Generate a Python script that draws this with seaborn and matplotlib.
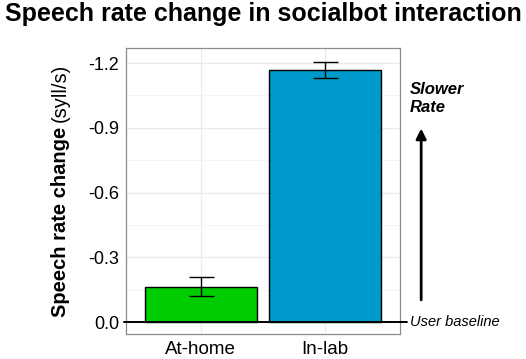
import numpy as np
import pandas as pd
import matplotlib
matplotlib.use("Agg")
import matplotlib.pyplot as plt
import seaborn as sns

# values
conditions = ["At-home", "In-lab"]
rate_change = [-0.165, -1.167]
rate_se = [0.045, 0.038]
bar_colors = ["#00CC00", "#0099CC"]
y_ticks = [0.0, -0.3, -0.6, -0.9, -1.2]

df = pd.DataFrame({"condition": conditions, "change": rate_change})

sns.set_style("white")
plt.rcParams["font.family"] = ["Liberation Sans", "DejaVu Sans"]
plt.rcParams["text.color"] = "black"
plt.rcParams["xtick.color"] = "black"
plt.rcParams["ytick.color"] = "black"

fig = plt.figure(figsize=(5.26, 3.59), dpi=100)
ax = fig.add_axes([126 / 526, 25 / 359, 274 / 526, 286 / 359])

sns.barplot(data=df, x="condition", y="change", hue="condition",
            palette=bar_colors, saturation=1, edgecolor="black", linewidth=1.0,
            width=0.9, legend=False, ax=ax, zorder=3)
ax.errorbar(x=np.arange(len(conditions)), y=rate_change, yerr=rate_se,
            fmt="none", ecolor="black", elinewidth=1.0, capsize=9,
            capthick=1.0, zorder=4)

ax.set_xlim(-0.6, 1.6)
ax.set_ylim(0.055, -1.27)
ax.set_yticks(y_ticks)
ax.set_yticklabels([f"{t:.1f}" for t in y_ticks])
ax.set_yticks([-0.15, -0.45, -0.75, -1.05], minor=True)

ax.grid(True, which="major", color="#EBEBEB", linewidth=0.9, zorder=0)
ax.grid(True, which="minor", axis="y", color="#F4F4F4", linewidth=0.6, zorder=0)
ax.set_axisbelow(True)
for s in ax.spines.values():
    s.set_color("#8C8C8C")
    s.set_linewidth(0.9)
ax.tick_params(axis="both", which="major", length=3, color="#8C8C8C",
               labelsize=13, labelcolor="black", pad=2)
ax.tick_params(axis="x", labelsize=13.5)
ax.tick_params(axis="y", which="minor", length=0)
ax.set_xlabel("")
ax.set_ylabel("")

# baseline at zero, running past the panel to the annotation
ax.plot([-0.62, 1.66], [0, 0], color="black", linewidth=1.4,
        clip_on=False, zorder=5)
ax.text(1.68, 0, "User baseline", style="italic", fontsize=10.5,
        va="center", ha="left", clip_on=False)

ax.annotate("", xy=(1.77, -0.91), xytext=(1.77, -0.09),
            xycoords="data", textcoords="data", annotation_clip=False,
            arrowprops=dict(arrowstyle="-|>", color="black", lw=2,
                            mutation_scale=15))
ax.text(1.68, -1.035, "Slower\nRate", style="italic", weight="bold",
        fontsize=12, va="center", ha="left", linespacing=1.25)

fig.text(0.5, 0.962, "Speech rate change in socialbot interaction",
         ha="center", va="center", weight="bold", fontsize=18)

# y label: bold part then normal unit, placed right after it
bold_lab = fig.text(60 / 526, 42 / 359, "Speech rate change", rotation=90,
                    rotation_mode="anchor", weight="bold", fontsize=14.5,
                    ha="left", va="center")
fig.canvas.draw()
bb = bold_lab.get_window_extent()
fig.text(60 / 526, (bb.y1 + 5) / fig.bbox.height, "(syll/s)", rotation=90,
         rotation_mode="anchor", fontsize=14.5, ha="left", va="center")

fig.savefig("out.png", dpi=100)
